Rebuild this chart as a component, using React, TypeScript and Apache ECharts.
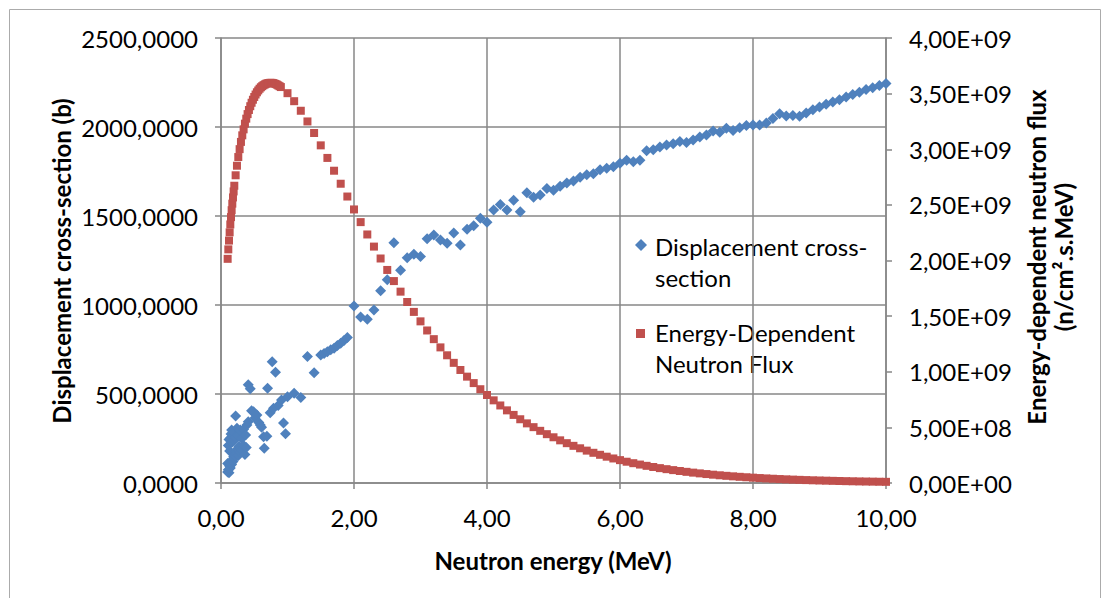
import React, { useEffect, useRef } from "react";
import * as echarts from "echarts";

// Energy-dependent neutron flux (right axis, in units of 1E+09 n/cm².s.MeV)
const fluxEnergy = [
  0.1, 0.11, 0.12, 0.13, 0.14, 0.15, 0.16, 0.17, 0.18, 0.19, 0.2,
  0.22, 0.24, 0.26, 0.28, 0.3, 0.32, 0.34, 0.36, 0.38, 0.4,
  0.42, 0.44, 0.46, 0.48, 0.5, 0.52, 0.54, 0.56, 0.58, 0.6,
  0.62, 0.64, 0.66, 0.68, 0.7, 0.72, 0.74, 0.76, 0.78, 0.8,
  0.82, 0.84, 0.86, 0.88, 0.9, 1.0,
  1.1, 1.2, 1.3, 1.4, 1.5, 1.6, 1.7, 1.8, 1.9, 2.0,
  2.1, 2.2, 2.3, 2.4, 2.5, 2.6, 2.7, 2.8, 2.9, 3.0,
  3.1, 3.2, 3.3, 3.4, 3.5, 3.6, 3.7, 3.8, 3.9, 4.0,
  4.1, 4.2, 4.3, 4.4, 4.5, 4.6, 4.7, 4.8, 4.9, 5.0,
  5.1, 5.2, 5.3, 5.4, 5.5, 5.6, 5.7, 5.8, 5.9, 6.0,
  6.1, 6.2, 6.3, 6.4, 6.5, 6.6, 6.7, 6.8, 6.9, 7.0,
  7.1, 7.2, 7.3, 7.4, 7.5, 7.6, 7.7, 7.8, 7.9, 8.0,
  8.1, 8.2, 8.3, 8.4, 8.5, 8.6, 8.7, 8.8, 8.9, 9.0,
  9.1, 9.2, 9.3, 9.4, 9.5, 9.6, 9.7, 9.8, 9.9, 10.0,
];
const fluxValue = [
  2.015, 2.1, 2.179, 2.253, 2.324, 2.39, 2.452, 2.511, 2.567, 2.621, 2.672,
  2.766, 2.852, 2.93, 3.001, 3.066, 3.125, 3.179, 3.23, 3.275, 3.316,
  3.353, 3.387, 3.418, 3.445, 3.47, 3.492, 3.512, 3.529, 3.544, 3.557,
  3.567, 3.576, 3.583, 3.589, 3.593, 3.595, 3.597, 3.597, 3.595, 3.591,
  3.587, 3.581, 3.574, 3.567, 3.559, 3.504,
  3.432, 3.346, 3.25, 3.146, 3.035, 2.922, 2.807, 2.69, 2.575, 2.459,
  2.345, 2.234, 2.125, 2.018, 1.915, 1.815, 1.72, 1.627, 1.538, 1.453,
  1.371, 1.293, 1.219, 1.148, 1.08, 1.016, 0.956, 0.898, 0.843, 0.791,
  0.743, 0.697, 0.653, 0.612, 0.573, 0.536, 0.502, 0.469, 0.439, 0.411,
  0.3835, 0.358, 0.334, 0.312, 0.291, 0.2715, 0.2535, 0.2365, 0.2205, 0.2055,
  0.1913, 0.1781, 0.1658, 0.1543, 0.1436, 0.1337, 0.1244, 0.1158, 0.1078, 0.1003,
  0.0932, 0.0866, 0.0804, 0.0747, 0.0694, 0.0645, 0.0599, 0.0556, 0.0517, 0.048,
  0.0445, 0.0413, 0.0383, 0.0355, 0.0329, 0.0305, 0.0283, 0.0262, 0.0243, 0.0226,
  0.0209, 0.0194, 0.0179, 0.0166, 0.0154, 0.0142, 0.0132, 0.0122, 0.0113, 0.0105,
];

// Displacement cross-section (left axis, barn)
const dpaEnergy = [
  0.1, 0.1, 0.11, 0.11, 0.12, 0.12, 0.13, 0.13, 0.14, 0.14, 0.15, 0.15, 0.16, 0.16, 0.17, 0.17,
  0.18, 0.18, 0.19, 0.19, 0.2, 0.2, 0.21, 0.21, 0.22, 0.22, 0.23, 0.24, 0.24, 0.25, 0.26, 0.26,
  0.27, 0.28, 0.29, 0.29, 0.3, 0.31, 0.32, 0.34, 0.34, 0.36, 0.37, 0.38, 0.39, 0.41, 0.41, 0.44,
  0.46, 0.49, 0.51, 0.54, 0.57, 0.59, 0.61, 0.64, 0.65, 0.69, 0.7, 0.74, 0.77, 0.79, 0.82, 0.86,
  0.91, 0.94, 0.97,
  1.0, 1.1, 1.2, 1.3, 1.4, 1.5, 1.55, 1.6, 1.65, 1.7, 1.75, 1.8, 1.85, 1.9, 2.0,
  2.1, 2.2, 2.3, 2.4, 2.5, 2.6, 2.7, 2.8, 2.9, 3.0,
  3.1, 3.2, 3.3, 3.4, 3.5, 3.6, 3.7, 3.8, 3.9, 4.0,
  4.1, 4.2, 4.3, 4.4, 4.5, 4.6, 4.7, 4.8, 4.9, 5.0,
  5.1, 5.2, 5.3, 5.4, 5.5, 5.6, 5.7, 5.8, 5.9, 6.0,
  6.1, 6.2, 6.3, 6.4, 6.5, 6.6, 6.7, 6.8, 6.9, 7.0,
  7.1, 7.2, 7.3, 7.4, 7.5, 7.6, 7.7, 7.8, 7.9, 8.0,
  8.1, 8.2, 8.3, 8.4, 8.5, 8.6, 8.7, 8.8, 8.9, 9.0,
  9.1, 9.2, 9.3, 9.4, 9.5, 9.6, 9.7, 9.8, 9.9, 10.0,
];
const dpaValue = [
  62, 110, 75, 210, 58, 245, 95, 180, 84, 251, 112, 275, 104, 298, 130, 230,
  121, 262, 148, 285, 139, 240, 162, 260, 150, 376, 178, 168, 307, 192, 155, 265,
  205, 182, 172, 298, 196, 250, 185, 210, 302, 160, 270, 200, 326, 344, 552, 530,
  406, 400, 365, 382, 340, 326, 313, 260, 195, 262, 532, 395, 681, 420, 622, 435,
  466, 337, 277,
  485, 504, 481, 710, 620, 719, 728, 738, 748, 757, 772, 785, 800, 818, 995,
  933, 920, 972, 1080, 1142, 1350, 1195, 1265, 1285, 1272,
  1372, 1393, 1365, 1347, 1404, 1337, 1425, 1445, 1488, 1465,
  1534, 1565, 1534, 1588, 1524, 1631, 1606, 1618, 1655, 1644,
  1667, 1686, 1696, 1717, 1732, 1738, 1760, 1768, 1776, 1796,
  1813, 1805, 1813, 1867, 1872, 1888, 1899, 1906, 1918, 1913,
  1927, 1944, 1955, 1977, 1971, 1993, 1980, 1996, 2008, 2011,
  2011, 2022, 2048, 2075, 2062, 2065, 2060, 2078, 2097, 2112,
  2128, 2140, 2153, 2168, 2183, 2195, 2210, 2220, 2233, 2244,
];

const seriesNames = ["Displacement cross-section", "Energy-Dependent Neutron Flux"];
const legendLines = [
  ["Displacement cross-", "section"],
  ["Energy-Dependent", "Neutron Flux"],
];
const xTitle = "Neutron energy (MeV)";
const leftTitle = "Displacement cross-section (b)";
const rightTitle = ["Energy-dependent neutron flux", "(n/cm².s.MeV)"];

const FONT = "Lato, 'Noto Sans', sans-serif";
const GRID = "#878787";
const BLUE = "#4F81BD";
const RED = "#C0504D";

function sciLabel(v: number): string {
  const n = v * 1e9;
  if (n === 0) return "0,00E+00";
  const e = Math.floor(Math.log10(n) + 1e-9);
  const m = n / Math.pow(10, e);
  return m.toFixed(2).replace(".", ",") + "E+" + String(e).padStart(2, "0");
}

export default function App() {
  const ref = useRef<HTMLDivElement>(null);
  useEffect(() => {
    document.body.style.margin = "0";
    const chart = echarts.init(ref.current!, null, { renderer: "svg" });
    const blue = dpaEnergy.map((e, i) => [e, dpaValue[i]]);
    const red = fluxEnergy.map((e, i) => [e, fluxValue[i]]);
    const tickLabel = { color: "#000", fontSize: 24, fontFamily: FONT };
    const lineStyle = { color: GRID, width: 1.5 };
    const titleStyle = {
      fontSize: 24,
      fontWeight: "bold",
      fontFamily: FONT,
      fill: "#000",
      align: "center",
      verticalAlign: "middle",
    };
    chart.setOption({
      animation: false,
      backgroundColor: "#fff",
      grid: { left: 221, right: 222, top: 38, bottom: 115, containLabel: false },
      xAxis: {
        type: "value",
        min: 0,
        max: 10,
        interval: 2,
        axisLine: { show: true, lineStyle },
        axisTick: { show: true, length: 6, lineStyle },
        axisLabel: { ...tickLabel, margin: 22, formatter: (v: number) => v.toFixed(2).replace(".", ",") },
        splitLine: { show: true, lineStyle },
      },
      yAxis: [
        {
          type: "value",
          min: 0,
          max: 2500,
          interval: 500,
          axisLine: { show: true, lineStyle },
          axisTick: { show: true, length: 6, lineStyle },
          axisLabel: { ...tickLabel, margin: 23, formatter: (v: number) => v.toFixed(4).replace(".", ",") },
          splitLine: { show: true, lineStyle },
        },
        {
          type: "value",
          position: "right",
          min: 0,
          max: 4,
          interval: 0.5,
          axisLine: { show: true, lineStyle },
          axisTick: { show: true, length: 6, lineStyle },
          axisLabel: { ...tickLabel, margin: 23, formatter: sciLabel },
          splitLine: { show: false },
        },
      ],
      series: [
        {
          name: seriesNames[0],
          type: "scatter",
          yAxisIndex: 0,
          symbol: "diamond",
          symbolSize: 11,
          itemStyle: { color: BLUE, opacity: 1 },
          data: blue,
          z: 2,
        },
        {
          name: seriesNames[1],
          type: "scatter",
          yAxisIndex: 1,
          symbol: "rect",
          symbolSize: 8,
          itemStyle: { color: RED, opacity: 1 },
          data: red,
          z: 3,
        },
      ],
      graphic: [
        {
          type: "rect",
          z: 0,
          silent: true,
          shape: { x: 9.5, y: 9.5, width: 1091, height: 620 },
          style: { fill: "none", stroke: "#ababab", lineWidth: 1 },
        },
        { type: "text", x: 61, y: 261, rotation: Math.PI / 2, style: { ...titleStyle, text: leftTitle } },
        { type: "text", x: 1036, y: 257, rotation: Math.PI / 2, style: { ...titleStyle, text: rightTitle[0] } },
        { type: "text", x: 1063, y: 257, rotation: Math.PI / 2, style: { ...titleStyle, text: rightTitle[1] } },
        { type: "text", x: 553, y: 560, style: { ...titleStyle, text: xTitle } },
        {
          type: "group",
          z: 100,
          children: [
            {
              type: "rect",
              shape: { x: 620, y: 216, width: 264, height: 177 },
              style: { fill: "#fff" },
            },
            {
              type: "polygon",
              shape: { points: [[641, 239], [647, 245], [641, 251], [635, 245]] },
              style: { fill: BLUE },
            },
            {
              type: "rect",
              shape: { x: 636, y: 329, width: 9, height: 9 },
              style: { fill: RED },
            },
            ...[
              [legendLines[0][0], 246],
              [legendLines[0][1], 277],
              [legendLines[1][0], 332],
              [legendLines[1][1], 363],
            ].map(([t, y]) => ({
              type: "text",
              x: 655,
              y: y as number,
              style: {
                text: t as string,
                fontSize: 24,
                fontFamily: FONT,
                fill: "#000",
                align: "left",
                verticalAlign: "middle",
              },
            })),
          ],
        },
      ],
    });
    return () => chart.dispose();
  }, []);
  return <div ref={ref} style={{ width: 1108, height: 598 }} />;
}
